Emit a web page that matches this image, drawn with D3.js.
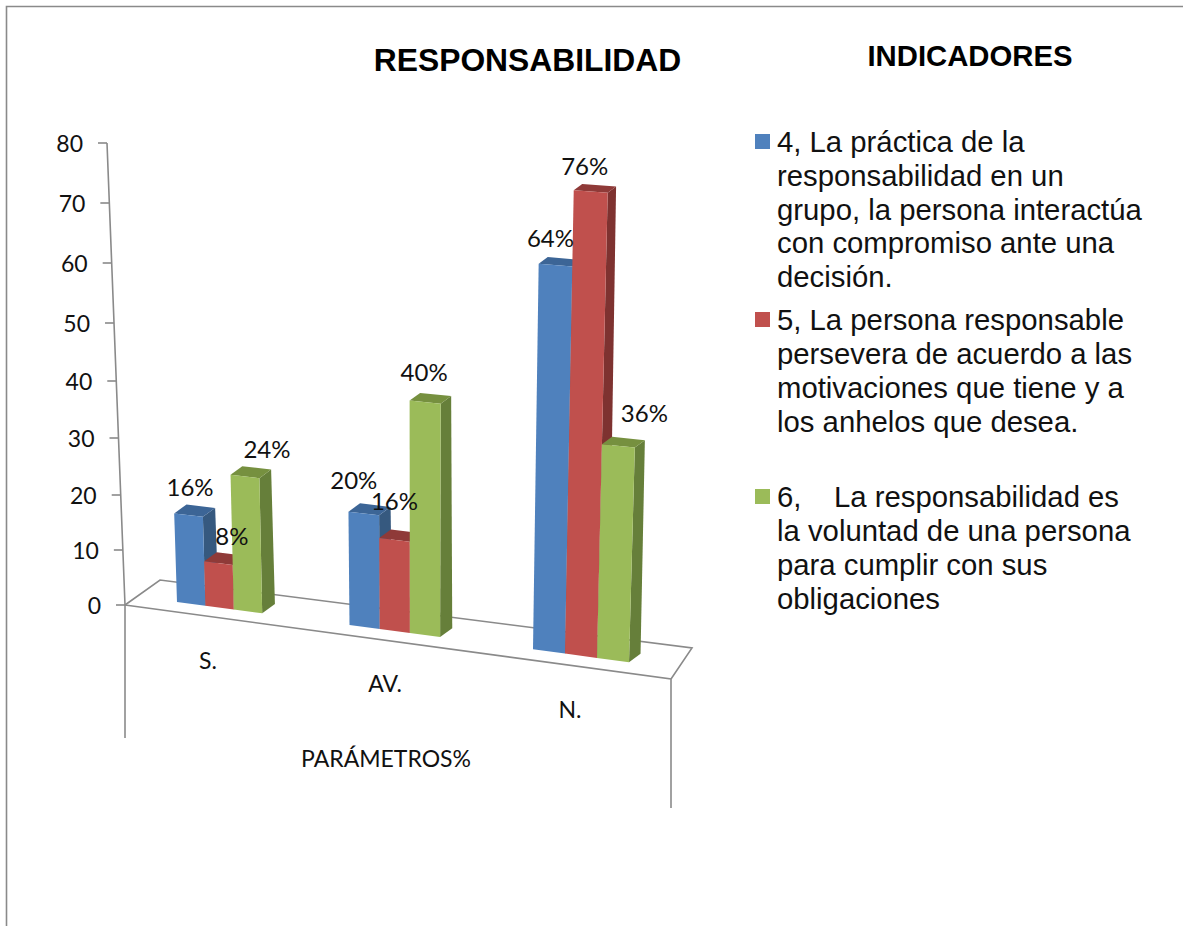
<!DOCTYPE html>
<html><head><meta charset="utf-8">
<style>html,body{margin:0;padding:0;background:#fff}svg{display:block}</style>
<script src="https://cdn.jsdelivr.net/npm/d3@7"></script></head><body>
<svg id="c" width="1183" height="926"></svg>
<script>
const categories = ["S.", "AV.", "N."];
const serie4 = [16, 20, 64];
const serie5 = [8, 16, 76];
const serie6 = [24, 40, 36];
const tickValues = [0, 10, 20, 30, 40, 50, 60, 70, 80];
const titleText = "RESPONSABILIDAD";
const legendTitle = "INDICADORES";
const axisTitle = "PARÁMETROS%";
const legend4 = ["4, La práctica de la", "responsabilidad en un", "grupo, la persona interactúa", "con compromiso ante una", "decisión."];
const legend5 = ["5, La persona responsable", "persevera de acuerdo a las", "motivaciones que tiene y a", "los anhelos que desea."];
const legend6 = ["6,    La responsabilidad es", "la voluntad de una persona", "para cumplir con sus", "obligaciones"];

const series = [serie4, serie5, serie6];
const legends = [legend4, legend5, legend6];
const colors = [
  {front:"#4f81bd", top:"#3c6596", side:"#36597f"},
  {front:"#c0504d", top:"#8f3a38", side:"#7e3230"},
  {front:"#9bbb59", top:"#76903f", side:"#667f3a"}
];
const ARIAL = "'Liberation Sans',Arial,sans-serif", CAL = "Lato,'Open Sans',sans-serif";
const GRAY = "#8a8a8a";
const svg = d3.select("#c");

// pseudo-3D projection, expressed as scales
const heightScale = d3.scaleLinear().domain(tickValues).range([0,55,110,167,224,282,342,402,462]);
const groupX = d3.scaleLinear().domain([0,1,2]).range([177,349.5,533]);
const barW = d3.scaleLinear().domain([0,1,2]).range([28.4,30.2,32]);
const baseY = d3.scaleLinear().domain([177,628]).range([602,662]);
const growth = d3.scaleLinear().domain([125,620]).range([1,1.065]);
const lean = x => (x-420)*1.3e-4;
function pt(x, v){
  const h = heightScale(v)*growth(x);
  const d = (1-0.0006*h)*(1-0.00025*(x-177));
  return {x:x+lean(x)*h, y:baseY(x)-h, dx:13*d, dy:-9.5*d};
}
const poly = ps => ps.map(p=>p.join(",")).join(" ");

// frame
svg.append("path").attr("d","M6.5 926V6.5H1183").attr("fill","none").attr("stroke",GRAY).attr("stroke-width",1.6);

// floor and axes
const lines = svg.append("g").attr("fill","none").attr("stroke",GRAY).attr("stroke-width",1.6);
lines.append("path").attr("d","M107 143L125 605V738");
lines.append("path").attr("d","M125 605L671 679V808");
lines.append("path").attr("d","M125 605L160 580L692 648L671 679");

// y ticks
const axisX = d3.scaleLinear().domain([0,80]).range([125,107]);
const axisY = v => 605-heightScale(v);
tickValues.forEach(v=>{
  const x = axisX(heightScale(v)/462*80);
  lines.append("line").attr("x1",x-9).attr("x2",x).attr("y1",axisY(v)).attr("y2",axisY(v));
  svg.append("text").attr("x",x-24).attr("y",axisY(v)+8.5).attr("text-anchor","end")
    .attr("font-family",CAL).attr("font-size",23).attr("fill","#111").text(v);
});

// bars
const nudge = [[[1.5,-27],[13.5,-26],[22,-27]],[[-10,-32],[0,-38],[-1,-29]],[[-5,-26.5],[-6,-24.5],[26,-32]]];
const labelLayer = [];
categories.forEach((c,i)=>{
  series.forEach((s,j)=>{
    const w = barW(i), x0 = groupX(i)+j*w, x1 = x0+w, v = s[i];
    const a = pt(x0,0), b = pt(x1,0), t0 = pt(x0,v), t1 = pt(x1,v);
    const g = svg.append("g");
    g.append("polygon").attr("fill",colors[j].side).attr("points",poly([
      [b.x,b.y],[t1.x,t1.y],[t1.x+t1.dx,t1.y+t1.dy],[b.x+b.dx,b.y+b.dy]]));
    g.append("polygon").attr("fill",colors[j].top).attr("points",poly([
      [t0.x,t0.y],[t1.x,t1.y],[t1.x+t1.dx,t1.y+t1.dy],[t0.x+t0.dx,t0.y+t0.dy]]));
    g.append("polygon").attr("fill",colors[j].front).attr("points",poly([
      [a.x,a.y],[b.x,b.y],[t1.x,t1.y],[t0.x,t0.y]]));
    labelLayer.push({x:(t0.x+t1.x)/2+nudge[i][j][0], y:(t0.y+t1.y)/2+nudge[i][j][1], t:v+"%"});
  });
});
svg.append("g").selectAll("text").data(labelLayer).join("text")
  .attr("x",d=>d.x).attr("y",d=>d.y+8).attr("text-anchor","middle")
  .attr("font-family",CAL).attr("font-size",24).attr("fill","#111").text(d=>d.t);

// category labels
const catX = d3.scaleLinear().domain([0,1,2]).range([208,385,570]);
const catY = d3.scaleLinear().domain([0,1,2]).range([661,684,710]);
categories.forEach((c,i)=>svg.append("text").attr("x",catX(i)).attr("y",catY(i)+8).attr("text-anchor","middle")
  .attr("font-family",CAL).attr("font-size",23).attr("fill","#111").text(c));
svg.append("text").attr("x",386).attr("y",767).attr("text-anchor","middle")
  .attr("font-family",CAL).attr("font-size",23).attr("fill","#111").text(axisTitle);

// titles
svg.append("text").attr("x",527.5).attr("y",71).attr("text-anchor","middle").attr("font-family",ARIAL)
  .attr("font-weight","bold").attr("font-size",31.8).attr("fill","#000").text(titleText);
svg.append("text").attr("x",970).attr("y",66).attr("text-anchor","middle").attr("font-family",ARIAL)
  .attr("font-weight","bold").attr("font-size",29.3).attr("fill","#000").text(legendTitle);

// legend
const legendStart = [143,321,498];
const lineStep = [33.75,34,34];
legends.forEach((ls,k)=>{
  svg.append("rect").attr("x",755).attr("y",legendStart[k]-9).attr("width",15).attr("height",15).attr("fill",colors[k].front);
  ls.forEach((t,n)=>svg.append("text").attr("x",777).attr("y",legendStart[k]+n*lineStep[k]+9.2)
    .style("white-space","pre")
    .attr("font-family",ARIAL).attr("font-size",29.3).attr("fill","#111").text(t));
});
</script></body></html>
